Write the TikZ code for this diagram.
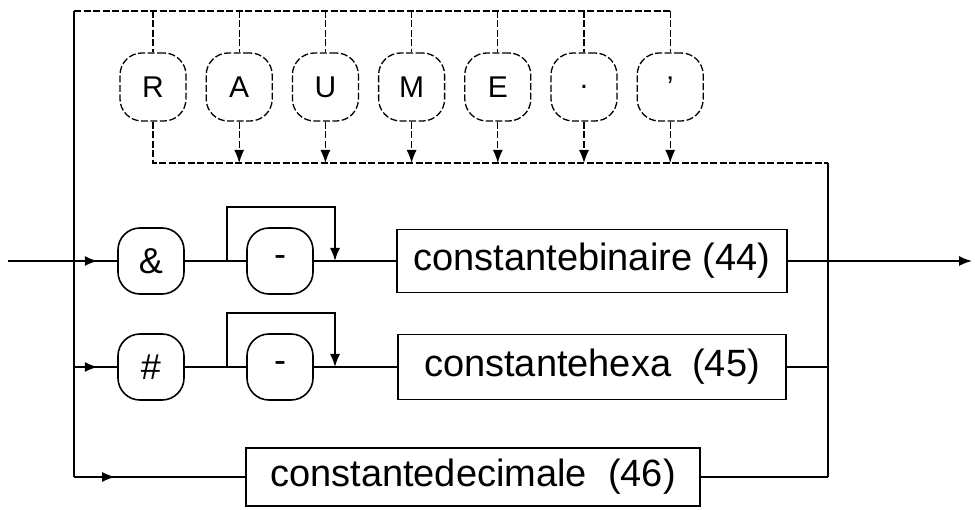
\documentclass[tikz,border=0pt]{standalone}
\usepackage{fontspec}
\setmainfont{Liberation Sans}
\usetikzlibrary{arrows.meta,positioning,decorations.markings}

\begin{document}
\begin{tikzpicture}[x=1pt,y=-1pt,line width=1.6pt,
    >={Latex[length=13pt,width=10pt]},
    term/.style={draw,rounded corners=22pt,minimum width=66pt,minimum height=66pt,
        inner sep=0pt,font=\fontsize{36}{38}\selectfont},
    nonterm/.style={draw,minimum height=63pt,inner sep=0pt,font=\fontsize{38}{40}\selectfont},
    toppart/.style={dash pattern=on 7pt off 2.5pt,line width=1.3pt},
    midarrow/.style={postaction={decorate},decoration={markings,
        mark=at position #1 with {\arrow{Latex[length=13pt,width=10pt]}}}}]
    \useasboundingbox (0,0) rectangle (975,510);
    % rails and rows
    \coordinate (in) at (8,261);
    \coordinate (out) at (972,261);
    \coordinate (top) at (74,11);
    \coordinate (bot) at (828,163);
    \foreach \n/\y in {1/261,2/367,3/477}{
        \coordinate (l\n) at (74,\y);
        \coordinate (r\n) at (828,\y);
    }
    % upper loop: single letters
    \foreach \c [count=\i] in {R,A,U,M,E,.,'}{
        \node[term,toppart,minimum height=68pt,font=\fontsize{30}{32}\selectfont] (t\i) at ({153+86.2*(\i-1)},87) {\c};
        \draw[toppart] (t\i.north|-top) -- (t\i.north);
    }
    \draw[toppart] (top) -- (t7.north|-top);
    \draw[toppart] (t1.south) |- (bot);
    \foreach \i in {2,...,7}{\draw[toppart,->] (t\i.south) -- (t\i.south|-bot);}
    % row 1
    \node[term] (amp) at (151,261) {\&};
    \node[term] (min1) at (280,261) {-};
    \node[nonterm,minimum width=390pt] (bin) at (592,261) {constantebinaire (44)};
    \coordinate (b1s) at (227,261);
    \coordinate (b1e) at (335,261);
    \draw[midarrow=0.55] (l1) -- (amp);
    \draw (amp) -- (min1) -- (bin) -- (r1);
    \draw[->] (b1s) -- ++(0,-54) -| (b1e);
    % row 2
    \node[term] (hash) at (151,367) {\#};
    \node[term] (min2) at (280,367) {-};
    \node[nonterm,minimum width=388pt,minimum height=65pt] (hex) at (592,367) {constantehexa\ \ (45)};
    \coordinate (b2s) at (227,367);
    \coordinate (b2e) at (335,367);
    \draw[midarrow=0.55] (l2) -- (hash);
    \draw (hash) -- (min2) -- (hex) -- (r2);
    \draw[->] (b2s) -- ++(0,-54) -| (b2e);
    % row 3
    \node[nonterm,minimum width=454pt,minimum height=58pt] (dec) at (473,477) {constantedecimale\ \ (46)};
    \draw[midarrow=0.24] (l3) -- (dec);
    \draw (dec) -- (r3);
    % rails
    \draw (top) -- (l3);
    \draw (bot) -- (r3);
    \draw (in) -- (l1);
    \draw[->] (r1) -- (out);
\end{tikzpicture}
\end{document}
